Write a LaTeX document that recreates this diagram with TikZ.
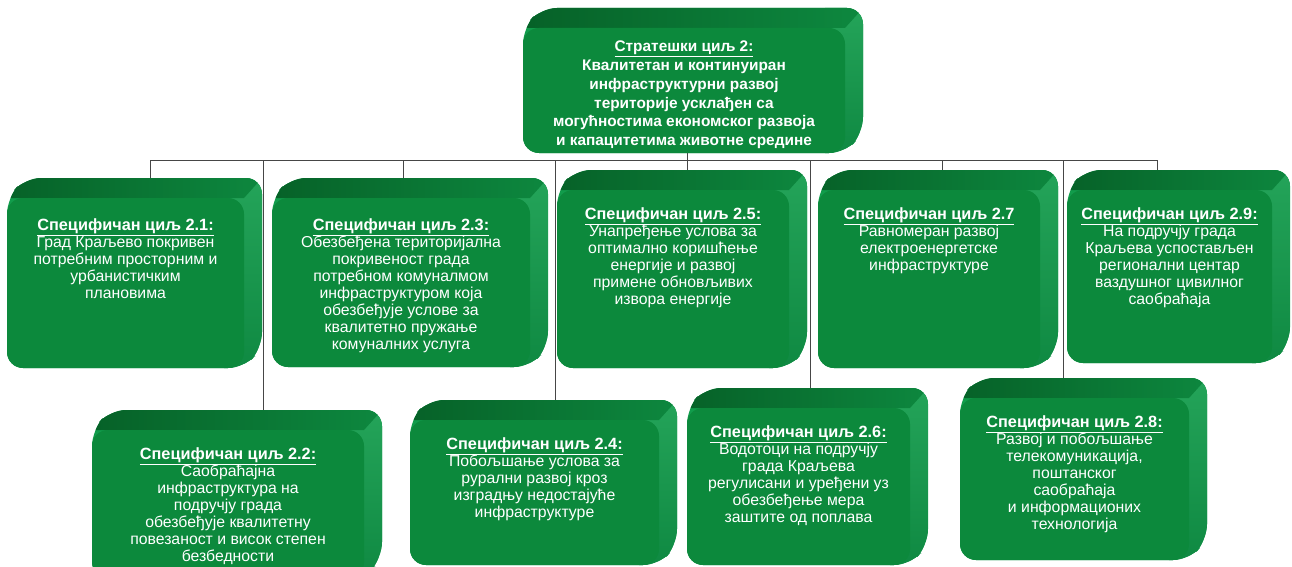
\documentclass[tikz,border=0pt]{standalone}
\usepackage{fontspec}
\setmainfont{Liberation Sans}
\usepackage{xcolor}
\usepackage{tikz}

\definecolor{frontgreen}{RGB}{12,137,60}
\definecolor{topgreen}{RGB}{6,96,39}
\definecolor{sidegreen}{RGB}{17,156,75}
\definecolor{linegray}{RGB}{70,70,70}

\tikzset{
  goaltext/.style={text=white, align=center, inner sep=0pt, anchor=north, font=\fontsize{15.8}{17}\selectfont},
  toptext/.style={goaltext, yshift=4pt, font=\bfseries\fontsize{15.4}{18.7}\selectfont},
  link/.style={draw=linegray, line width=0.9pt}
}
\newcommand{\goaltitle}[1]{{\fontsize{16.3}{17}\selectfont\bfseries\underline{#1}}}

% #1 name, #2 x of the link, #3 #4 front top left, #5 #6 front bottom right, #7 text style, #8 text
\newcommand{\goalbox}[8]{
  \fill[sidegreen, rounded corners=16pt] (#3,#6) -- (#3,#4) -- (#3+18,#4-20) -- (#5+18,#4-20) -- (#5+18,#6-20) -- (#5,#6) -- cycle;
  \begin{scope}
    \clip[rounded corners=16pt] (#3,#6) -- (#3,#4) -- (#3+18,#4-20) -- (#5+18,#4-20) -- (#5+18,#6-20) -- (#5,#6) -- cycle;
    \shade[top color=sidegreen!92!white, bottom color=sidegreen!88!black] (#5-20,#4-20) rectangle (#5+20,#6);
    \shade[left color=topgreen, right color=sidegreen!70!topgreen] (#3-10,#4) -- (#3-10,#4-40) -- (#5+36,#4-40) -- (#5,#4) -- cycle;
  \end{scope}
  \fill[frontgreen, rounded corners=16pt] (#3,#4) rectangle (#5,#6);
  \node[#7] (#1) at ({(#3+#5)/2},#4+17) {#8};
  \coordinate (#1top) at (#2,#4-20);
  \coordinate (#1bot) at (#2,#6);
}

\begin{document}
\begin{tikzpicture}[x=1pt,y=-1pt]
\useasboundingbox (0,0) rectangle (1292,567);

\goalbox{ST}{687}{523}{28}{845}{153}{toptext}{\underline{Стратешки циљ 2:}\\Квалитетан и континуиран\\инфраструктурни развој\\територије усклађен са\\могућностима економског развоја\\и капацитетима животне средине}

\goalbox{G21}{150}{7}{198}{244}{368}{goaltext,yshift=-3pt}{\goaltitle{Специфичан циљ 2.1:}\\Град Краљево покривен\\потребним просторним и\\урбанистичким\\плановима}
\goalbox{G23}{403}{272}{198}{530}{367}{goaltext,yshift=-3pt}{\goaltitle{Специфичан циљ 2.3:}\\Обезбеђена територијална\\покривеност града\\потребном комуналмом\\инфраструктуром која\\обезбеђује услове за\\квалитетно пружање\\комуналних услуга}
\goalbox{G25}{687}{557}{190}{789}{368}{goaltext}{\goaltitle{Специфичан циљ 2.5:}\\Унапређење услова за\\оптимално коришћење\\енергије и развој\\примене обновљивих\\извора енергије}
\goalbox{G27}{942}{818}{190}{1040}{368}{goaltext}{\goaltitle{Специфичан циљ 2.7}\\Равномеран развој\\електроенергетске\\инфраструктуре}
\goalbox{G29}{1157}{1067}{190}{1272}{363}{goaltext}{\goaltitle{Специфичан циљ 2.9:}\\На подручју града\\Краљева успостављен\\регионални центар\\ваздушног цивилног\\саобраћаја}

\goalbox{G22}{263}{92}{430}{364}{578}{goaltext}{\goaltitle{Специфичан циљ 2.2:}\\Саобраћајна\\инфраструктура на\\подручју града\\обезбеђује квалитетну\\повезаност и висок степен\\безбедности}
\goalbox{G24}{555}{410}{420}{659}{565}{goaltext}{\goaltitle{Специфичан циљ 2.4:}\\Побољшање услова за\\рурални развој кроз\\изградњу недостајуће\\инфраструктуре}
\goalbox{G26}{810}{687}{408}{910}{565}{goaltext}{\goaltitle{Специфичан циљ 2.6:}\\Водотоци на подручју\\града Краљева\\регулисани и уређени уз\\обезбеђење мера\\заштите од поплава}
\goalbox{G28}{1063}{960}{398}{1189}{560}{goaltext}{\goaltitle{Специфичан циљ 2.8:}\\Развој и побољшање\\телекомуникација,\\поштанског\\саобраћаја\\и информационих\\технологија}

% connectors
\coordinate (bus) at (0,160);
\draw[link] (STbot) -- (G25top);
\draw[link] (G21top |- bus) -- (G29top |- bus);
\foreach \g in {G21,G22,G23,G24,G26,G27,G28,G29}
  \draw[link] (\g top |- bus) -- (\g top);
\end{tikzpicture}
\end{document}
